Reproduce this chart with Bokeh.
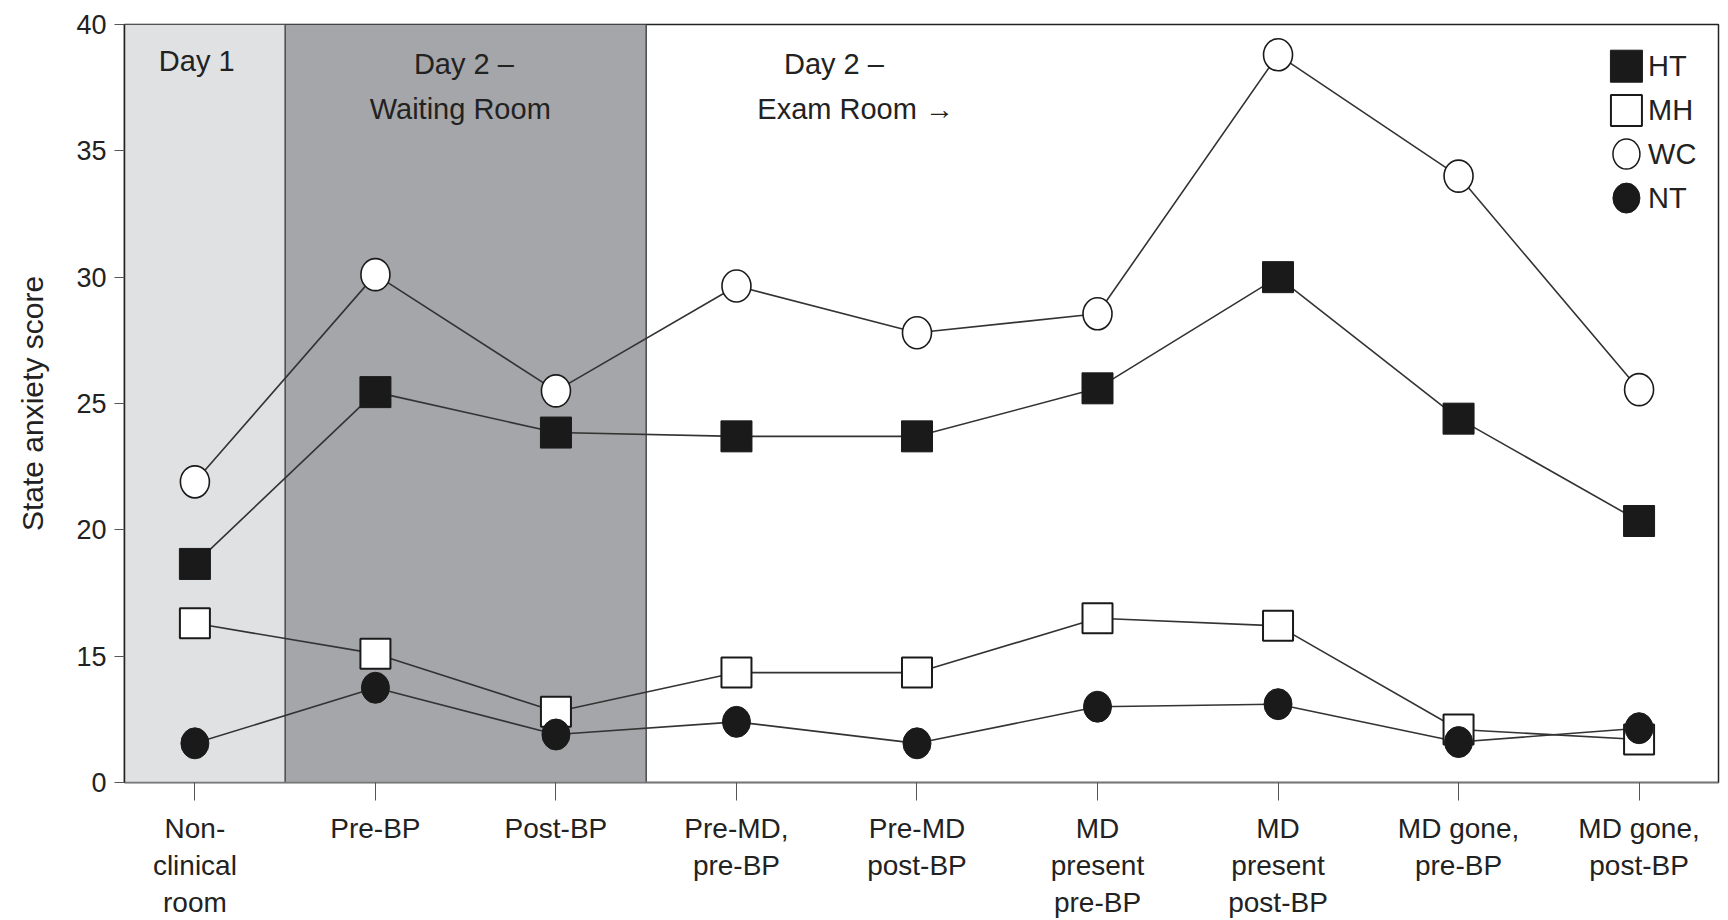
from bokeh.plotting import figure
from bokeh.models import FixedTicker, Range1d, Label
from bokeh.embed import file_html
from bokeh.resources import INLINE

# ---- data ----
categories = ["Non-\nclinical\nroom", "Pre-BP", "Post-BP", "Pre-MD,\npre-BP", "Pre-MD\npost-BP",
              "MD\npresent\npre-BP", "MD\npresent\npost-BP", "MD gone,\npre-BP", "MD gone,\npost-BP"]
x_idx = list(range(len(categories)))
# values in axis units (axis is broken: bottom tick labelled "0" sits at 10)
ht = [18.65, 25.45, 23.85, 23.7, 23.7, 25.6, 30.0, 24.4, 20.35]
mh = [16.3, 15.1, 12.8, 14.35, 14.35, 16.5, 16.2, 12.1, 11.7]
wc = [21.9, 30.1, 25.5, 29.65, 27.8, 28.55, 38.8, 34.0, 25.55]
nt = [11.55, 13.75, 11.9, 12.4, 11.55, 13.0, 13.1, 11.6, 12.15]
series_names = ["HT", "MH", "WC", "NT"]
y_ticks = [10, 15, 20, 25, 30, 35, 40]
y_tick_labels = ["0", "15", "20", "25", "30", "35", "40"]
region_left = [-0.39, 0.5]
region_right = [0.5, 2.5]
region_colors = ["#e0e1e3", "#a5a6a9"]

FONT = "Liberation Sans"
TXT = "#222222"

p = figure(width=1720, height=920, output_backend="svg", toolbar_location=None,
           x_range=Range1d(-0.39, 8.44), y_range=Range1d(10, 40),
           min_border_left=124, min_border_right=2, min_border_top=24, min_border_bottom=135)
p.background_fill_color = "white"
p.border_fill_color = "white"
p.outline_line_color = "#222222"
p.outline_line_width = 1.5
p.grid.visible = False

# background regions
p.quad(left=region_left, right=region_right, bottom=10, top=40,
       fill_color=region_colors, line_color=None)
p.segment(x0=[region_right[0], region_right[1]], y0=[10, 10],
          x1=[region_right[0], region_right[1]], y1=[40, 40],
          line_color="#4a4a4a", line_width=1.5)

LC = "#333333"
for ys in (wc, ht, mh, nt):
    p.line(x_idx, ys, line_color=LC, line_width=1.6)

p.scatter(x_idx, ht, marker="square", size=31, fill_color="#1a1a1a", line_color="#1a1a1a")
p.scatter(x_idx, mh, marker="square", size=30, fill_color="white", line_color="#1a1a1a", line_width=2)
p.ellipse(x_idx, wc, width=29, height=32, width_units="screen", height_units="screen",
          fill_color="white", line_color="#1a1a1a", line_width=1.6)
p.ellipse(x_idx, nt, width=28, height=31, width_units="screen", height_units="screen",
          fill_color="#1a1a1a", line_color="#1a1a1a")

# legend (manual)
lx = [7.93]
p.scatter(lx, [38.35], marker="square", size=32, fill_color="#1a1a1a", line_color="#1a1a1a")
p.scatter(lx, [36.6], marker="square", size=31, fill_color="white", line_color="#1a1a1a", line_width=2)
p.ellipse(lx, [34.87], width=27, height=30, width_units="screen", height_units="screen",
          fill_color="white", line_color="#1a1a1a", line_width=1.5)
p.ellipse(lx, [33.13], width=27, height=30, width_units="screen", height_units="screen",
          fill_color="#1a1a1a", line_color="#1a1a1a")
for name, yy in zip(series_names, [38.35, 36.6, 34.87, 33.13]):
    p.add_layout(Label(x=8.05, y=yy, text=name, text_font=FONT, text_font_size="29px",
                       text_color=TXT, text_baseline="middle", text_align="left"))

# region annotations
ann = [("Day 1", 0.01, 38.55), ("Day 2 \u2013", 1.49, 38.45), ("Waiting Room", 1.47, 36.65),
       ("Day 2 \u2013", 3.54, 38.45), ("Exam Room \u2192", 3.66, 36.65)]
for t, x, y in ann:
    p.add_layout(Label(x=x, y=y, text=t, text_font=FONT, text_font_size="29px",
                       text_color=TXT, text_baseline="middle", text_align="center"))

# axes
xa = p.xaxis[0]
xa.ticker = FixedTicker(ticks=x_idx)
xa.major_label_overrides = {i: c for i, c in zip(x_idx, categories)}
xa.major_label_text_font = FONT
xa.major_label_text_font_size = "28px"
xa.major_label_text_color = TXT
xa.major_label_text_line_height = 1.2
xa.major_label_standoff = 12
xa.major_tick_out = 18
xa.major_tick_in = 0
xa.minor_tick_line_color = None
xa.axis_line_color = "#777777"
xa.axis_line_width = 1.5
xa.major_tick_line_color = "#555555"

ya = p.yaxis[0]
ya.ticker = FixedTicker(ticks=y_ticks)
ya.major_label_overrides = {t: l for t, l in zip(y_ticks, y_tick_labels)}
ya.major_label_text_font = FONT
ya.major_label_text_font_size = "27px"
ya.major_label_text_color = TXT
ya.major_label_standoff = 8
ya.major_tick_out = 10
ya.major_tick_in = 0
ya.minor_tick_line_color = None
ya.axis_line_color = "#222222"
ya.axis_line_width = 1.5
ya.major_tick_line_color = "#555555"
ya.axis_label = "State anxiety score"
ya.axis_label_text_font = FONT
ya.axis_label_text_font_style = "normal"
ya.axis_label_text_font_size = "30px"
ya.axis_label_text_color = TXT
ya.axis_label_standoff = 24

open("out.html", "w").write(file_html(p, INLINE))
